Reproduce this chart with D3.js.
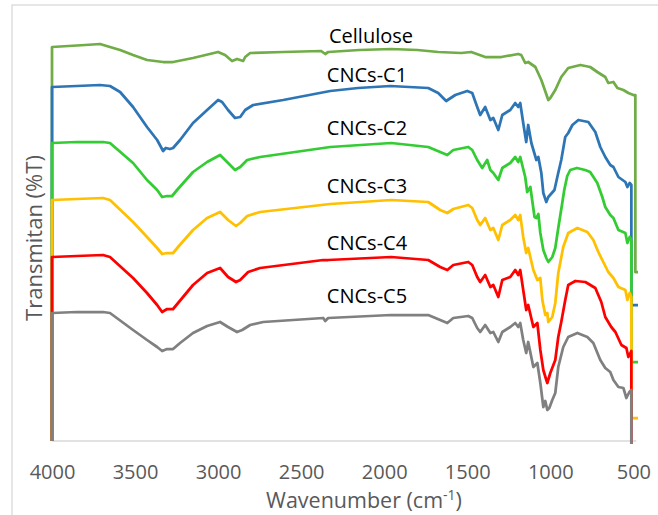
<!DOCTYPE html>
<html>
<head>
<meta charset="utf-8">
<script src="https://cdn.jsdelivr.net/npm/d3@7/dist/d3.min.js"></script>
<style>
  body { margin: 0; background: #fff; }
  text { font-family: "Open Sans", sans-serif; }
</style>
</head>
<body>
<svg id="chart" width="658" height="515"></svg>
<script>
// FTIR spectra, [wavenumber cm-1, transmittance (offset, a.u.)]
var seriesNames = ['Cellulose', 'CNCs-C1', 'CNCs-C2', 'CNCs-C3', 'CNCs-C4', 'CNCs-C5'];
var seriesColors = ['#70AD47', '#2E75B6', '#33CC33', '#FFC000', '#FF0000', '#808080'];
var xTicks = [4000, 3500, 3000, 2500, 2000, 1500, 1000, 500];

var cellulose = [[4000,0],[4000,394],[3900,395],[3800,396],[3711,397],[3651,394],[3590,391],[3512,386],[3428,381],
	[3331,379],[3271,379],[3151,383],[3000,389],[2958,386],[2916,380],[2886,382],[2849,380],[2837,384],[2807,388],
	[2608,389],[2380,390],[2355,387],[2337,389],[2150,391],[1958,392],[1800,391],[1675,389],[1536,388],[1476,389],
	[1392,384],[1295,384],[1193,387],[1175,386],[1151,378],[1133,379],[1090,374],[1054,361],[1012,341],[1000,343],
	[970,351],[934,364],[892,373],[819,376],[760,374],[717,369],[669,364],[651,358],[620,359],[596,353],[560,351],
	[530,348],[500,346],[488,346],[488,169],[472,169]];

var cncC1 = [[4000,0],[4000,354],[3850,355],[3711,356],[3651,355],[3590,349],[3512,334],[3428,314],[3367,301],
	[3331,290],[3315,293],[3290,292],[3271,293],[3229,301],[3151,318],[3066,331],[3000,341],[2976,339],[2940,331],
	[2898,323],[2867,324],[2837,331],[2789,336],[2608,341],[2325,350],[2157,353],[1964,355],[1735,353],[1675,348],
	[1627,340],[1572,346],[1500,350],[1470,348],[1440,334],[1422,326],[1392,334],[1361,321],[1343,323],[1313,311],
	[1289,326],[1241,331],[1211,338],[1193,334],[1181,338],[1163,318],[1145,299],[1133,316],[1114,298],[1084,281],
	[1072,284],[1054,268],[1042,248],[1024,239],[1012,244],[975,251],[955,266],[934,281],[910,304],[892,308],
	[867,316],[831,321],[771,319],[729,309],[699,294],[669,284],[639,276],[620,274],[590,264],[548,259],[536,254],
	[522,258],[512,256],[512,136],[472,136]];

var cncC2 = [[4000,0],[4000,298],[3850,299],[3693,299],[3651,298],[3512,278],[3428,261],[3367,251],[3337,244],
	[3307,245],[3277,245],[3247,251],[3151,269],[3066,279],[2988,286],[2940,278],[2898,271],[2867,274],[2825,281],
	[2747,284],[2325,294],[1958,298],[1735,294],[1663,289],[1620,286],[1584,291],[1494,294],[1470,291],[1440,281],
	[1410,273],[1380,281],[1361,271],[1343,268],[1313,261],[1289,273],[1241,278],[1211,284],[1193,279],[1181,284],
	[1151,264],[1139,249],[1120,254],[1105,236],[1095,224],[1084,223],[1072,227],[1060,208],[1042,191],[1024,183],
	[1012,179],[988,184],[970,193],[952,213],[928,238],[916,251],[898,265],[880,271],[840,273],[790,271],[760,269],
	[717,258],[687,244],[669,234],[639,226],[620,223],[590,211],[548,208],[536,198],[522,204],[512,201],[512,79],[472,79]];

var cncC3 = [[4000,0],[4000,241],[3850,242],[3693,243],[3651,241],[3512,219],[3428,204],[3367,193],[3337,187],
	[3307,188],[3271,188],[3241,194],[3151,211],[3066,223],[2988,229],[2940,221],[2892,215],[2867,218],[2825,225],
	[2747,229],[2325,237],[1958,241],[1735,239],[1663,231],[1620,228],[1584,232],[1494,236],[1470,233],[1440,221],
	[1422,216],[1392,223],[1361,211],[1343,213],[1313,201],[1289,216],[1241,221],[1211,226],[1193,221],[1181,226],
	[1163,204],[1145,188],[1133,193],[1102,171],[1078,161],[1060,163],[1048,141],[1030,126],[1018,128],[1012,119],
	[988,124],[970,138],[952,168],[922,194],[892,208],[837,213],[777,209],[741,201],[711,189],[681,179],[651,169],
	[620,163],[590,154],[548,151],[536,141],[522,148],[512,144],[512,23],[472,23]];

var cncC4 = [[4000,0],[4000,184],[3850,185],[3693,186],[3651,184],[3512,163],[3428,148],[3367,136],[3337,129],
	[3307,132],[3271,132],[3241,138],[3151,156],[3066,168],[2988,173],[2940,164],[2892,159],[2867,161],[2819,169],
	[2747,173],[2367,181],[2337,181],[1958,184],[1735,181],[1663,174],[1620,171],[1584,176],[1494,179],[1470,176],
	[1440,164],[1422,159],[1392,166],[1361,154],[1343,156],[1313,144],[1289,161],[1241,164],[1211,171],[1193,166],
	[1181,171],[1163,151],[1145,131],[1133,136],[1102,114],[1078,118],[1060,91],[1042,71],[1024,61],[1018,58],
	[1000,68],[970,81],[952,104],[934,119],[910,141],[892,156],[849,160],[789,159],[729,153],[693,139],[669,124],
	[633,114],[608,109],[572,96],[542,93],[530,84],[512,90],[512,-40],[472,-40]];

var cncC5 = [[4000,0],[4000,128],[3850,129],[3693,129],[3651,128],[3512,111],[3428,101],[3367,94],[3337,90],
	[3307,92],[3271,92],[3229,98],[3151,108],[3066,115],[2988,119],[2940,114],[2886,109],[2855,111],[2807,116],
	[2729,119],[2367,123],[2355,120],[2337,123],[1958,126],[1735,126],[1663,121],[1620,118],[1584,123],[1494,125],
	[1470,123],[1440,113],[1422,109],[1392,116],[1361,108],[1343,109],[1313,99],[1289,109],[1241,114],[1211,118],
	[1193,114],[1181,118],[1163,101],[1145,88],[1133,99],[1102,74],[1078,78],[1060,58],[1042,34],[1030,40],
	[1018,31],[1006,33],[988,41],[970,48],[952,74],[922,94],[892,104],[837,108],[777,104],[741,98],[699,81],
	[669,73],[639,69],[620,61],[590,54],[560,53],[542,43],[524,49],[512,51],[512,-20],[472,-20]];

var allSeries = [cellulose, cncC1, cncC2, cncC3, cncC4, cncC5];

var svg = d3.select('#chart');

// chart border (Excel chart area)
svg.append('rect')
	.attr('x', 12).attr('y', 5)
	.attr('width', 700).attr('height', 600)
	.attr('fill', 'none')
	.attr('stroke', '#D9D9D9')
	.attr('stroke-width', 1.3);

var x = d3.scaleLinear().domain([4000, 472]).range([52, 638]);
var y = d3.scaleLinear().domain([0, 412]).range([441, 29]);

// x axis
var xAxis = svg.append('g')
	.attr('transform', 'translate(0,441)')
	.call(d3.axisBottom(x).tickValues(xTicks).tickSize(0).tickPadding(24).tickFormat(d3.format('d')));
xAxis.select('.domain').remove();
xAxis.selectAll('text')
	.attr('fill', '#595959')
	.style('font-size', '20px')
	.style('font-family', '"Open Sans", sans-serif');

svg.append('line')
	.attr('x1', x(4000)).attr('x2', x(482))
	.attr('y1', 441).attr('y2', 441)
	.attr('stroke', '#D9D9D9')
	.attr('stroke-width', 1.5);

// clip lines to plot area
svg.append('clipPath').attr('id', 'plotclip')
	.append('rect').attr('x', 40).attr('y', 0).attr('width', 610).attr('height', 444);

var line = d3.line()
	.x(function (d) { return x(d[0]); })
	.y(function (d) { return y(d[1]); });

var plot = svg.append('g').attr('clip-path', 'url(#plotclip)');
for (var i = 0; i < allSeries.length; i++) {
	plot.append('path')
		.datum(allSeries[i])
		.attr('d', line)
		.attr('fill', 'none')
		.attr('stroke', seriesColors[i])
		.attr('stroke-width', 2.75)
		.attr('stroke-linejoin', 'round');
}

// series labels
var labelBaselines = [43, 82, 135, 193, 250, 303];
for (var i = 0; i < seriesNames.length; i++) {
	svg.append('text')
		.attr('x', i == 0 ? 371 : 367)
		.attr('y', labelBaselines[i])
		.attr('text-anchor', 'middle')
		.attr('fill', '#000')
		.style('font-size', '20px')
		.text(seriesNames[i]);
}

// axis titles
var xt = svg.append('text')
	.attr('x', 364).attr('y', 508)
	.attr('text-anchor', 'middle')
	.attr('fill', '#595959')
	.style('font-size', '21.5px');
xt.append('tspan').text('Wavenumber (cm');
xt.append('tspan').attr('dy', -8).style('font-size', '14px').text('-1');
xt.append('tspan').attr('dy', 8).text(')');

svg.append('text')
	.attr('transform', 'translate(42,238) rotate(-90)')
	.attr('text-anchor', 'middle')
	.attr('fill', '#595959')
	.style('font-size', '22px')
	.text('Transmitan (%T)');
</script>
</body>
</html>
